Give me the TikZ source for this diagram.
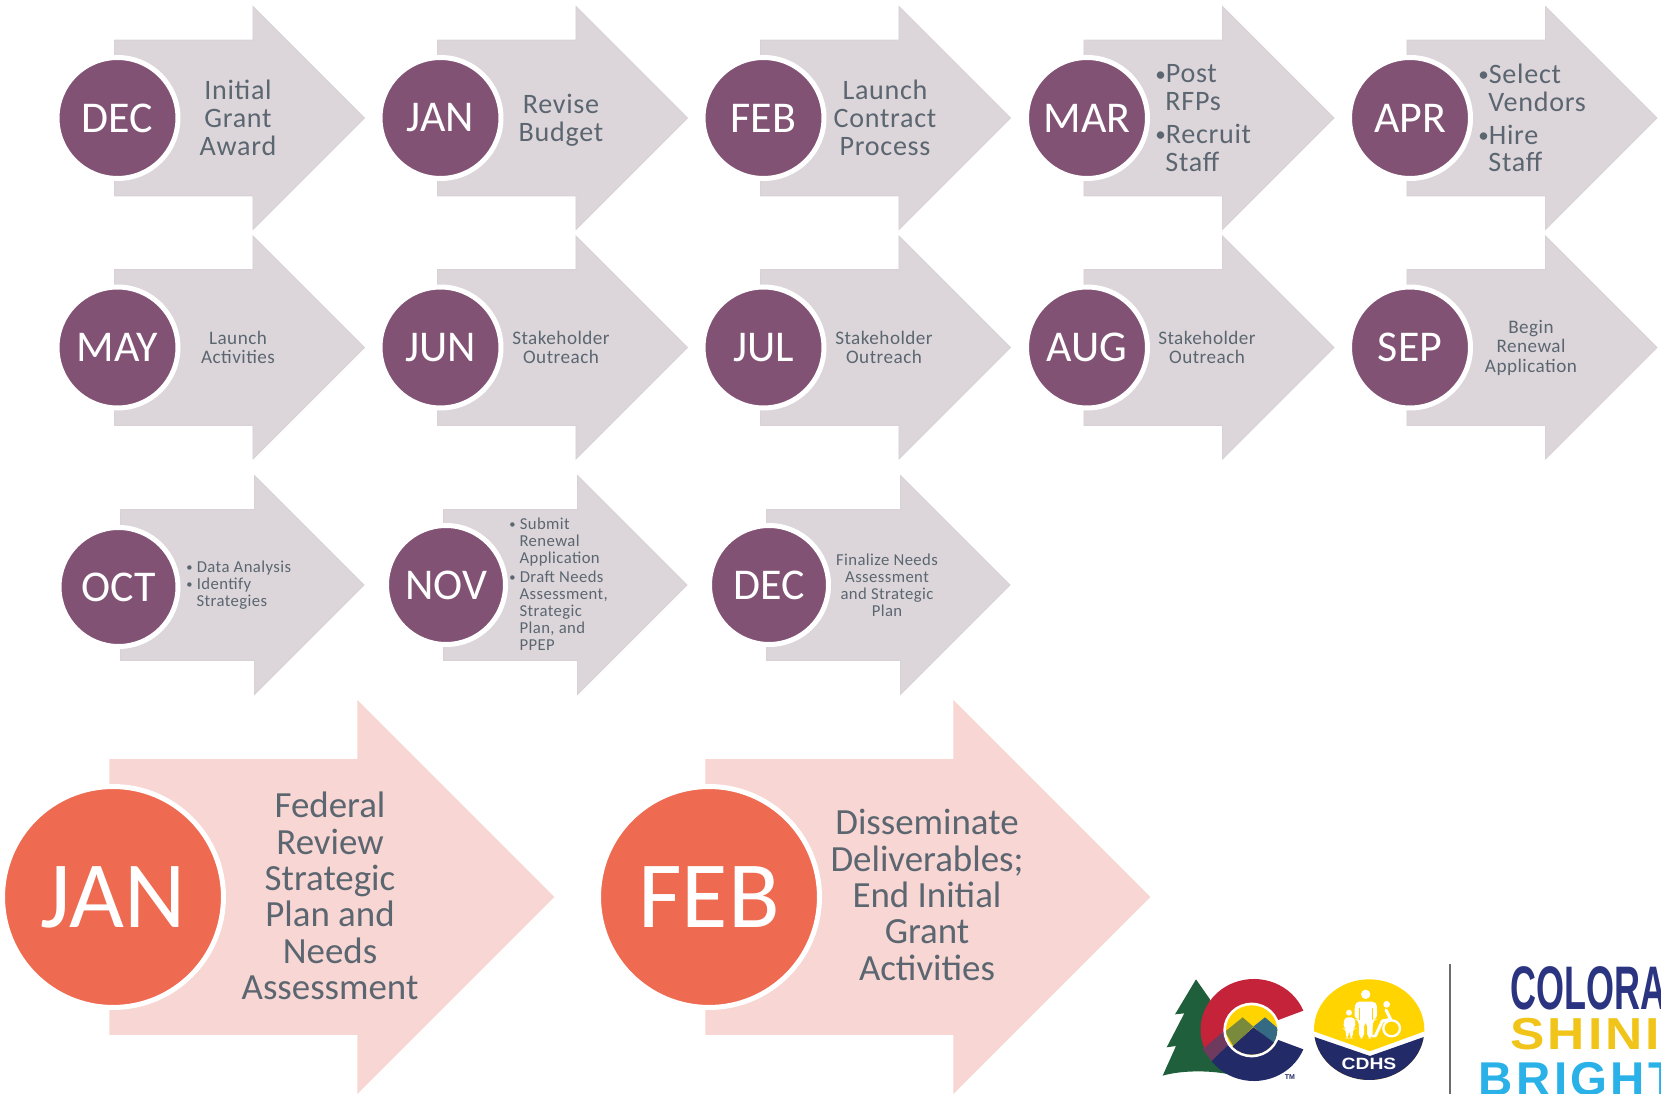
\documentclass[tikz,border=0pt]{standalone}
\usepackage{fontspec}
\setmainfont[LetterSpace=2.5]{Carlito}
\newfontfamily\monthfont{Carlito}
\newfontfamily\logofont{Liberation Sans}
\newfontfamily\shinefont[LetterSpace=6]{Liberation Sans}
\newfontfamily\brightfont[LetterSpace=7]{Liberation Sans}
\usetikzlibrary{shapes.arrows}
\definecolor{plumFill}{HTML}{825274}
\definecolor{greyArrow}{HTML}{DCD6DB}
\definecolor{greyEdge}{HTML}{D8D2D7}
\definecolor{coralFill}{HTML}{EE6A50}
\definecolor{pinkArrow}{HTML}{F7D6D3}
\definecolor{slateText}{HTML}{5B6670}
\definecolor{logoRed}{HTML}{C4233A}
\definecolor{logoNavy}{HTML}{232A68}
\definecolor{logoGreen}{HTML}{1F5F3B}
\definecolor{logoYellow}{HTML}{FFD400}
\definecolor{logoOlive}{HTML}{7A8A3C}
\definecolor{logoTeal}{HTML}{356A85}
\definecolor{logoPurple}{HTML}{6E3A5E}
\definecolor{wordNavy}{HTML}{2B3480}
\definecolor{wordYellow}{HTML}{F0C419}
\definecolor{wordBlue}{HTML}{2AB2E8}
\newcommand{\bulletgap}{\hspace*{0.36em}}
\newcommand{\itemdot}{\raisebox{.12ex}{\scalebox{.75}{\textbullet}}}
\tikzset{
    monthArrow/.style={single arrow, single arrow head indent=0pt, single arrow tip angle=90, fill=greyArrow, draw=greyEdge, line width=0.5pt, anchor=tail, inner xsep=0pt, inner ysep=1.55cm, minimum height=5cm, minimum width=4.44cm, single arrow head extend=0.67cm},
    lowArrow/.style={monthArrow, inner ysep=1.5cm, minimum height=4.87cm, minimum width=4.36cm, single arrow head extend=0.68cm},
    bigArrow/.style={single arrow, single arrow head indent=0pt, single arrow tip angle=90, fill=pinkArrow, anchor=tail, inner xsep=0pt, inner ysep=2.75cm, minimum height=8.9cm, minimum width=7.86cm, single arrow head extend=1.18cm},
    monthDisc/.style={circle, fill=plumFill, draw=white, line width=2.85pt, minimum size=2.42cm, inner sep=0pt, text=white, font=\monthfont\fontsize{25}{25}\selectfont},
    lowDisc/.style={monthDisc, minimum size=2.38cm},
    bigDisc/.style={circle, fill=coralFill, draw=white, line width=2.85pt, minimum size=4.42cm, inner sep=0pt, text=white, font=\monthfont\fontsize{54}{54}\selectfont},
    wideText/.style={align=center, text=slateText, inner sep=0pt, font=\fontsize{16}{15.8}\selectfont},
    bulletText/.style={wideText, align=left, anchor=west},
    midText/.style={wideText, font=\fontsize{10.9}{11.1}\selectfont},
    smallText/.style={wideText, font=\fontsize{9.5}{9.6}\selectfont},
    smallBullet/.style={smallText, align=left, anchor=west},
    bigText/.style={wideText, font=\monthfont\fontsize{21}{20.7}\selectfont},
    wordText/.style={anchor=base west, inner sep=0pt}
}
\begin{document}
\begin{tikzpicture}[x=0.02cm, y=-0.02cm]
    \useasboundingbox (0,0) rectangle (1661,1094);
    \clip (0,0) rectangle (1661,1094);

    \node[monthArrow] (arrowDecA) at (114,118) {};
    \node[monthArrow] (arrowJanA) at (437,118) {};
    \node[monthArrow] (arrowFebA) at (760,118) {};
    \node[monthArrow] (arrowMar) at (1083.5,118) {};
    \node[monthArrow] (arrowApr) at (1406.5,118) {};
    \node[monthDisc] (discDecA) at (117.5,118) {DEC};
    \node[monthDisc] (discJanA) at (440.5,118) {JAN};
    \node[monthDisc] (discFebA) at (763.5,118) {FEB};
    \node[monthDisc] (discMar) at (1087,118) {MAR};
    \node[monthDisc] (discApr) at (1410,118) {APR};
    \node[wideText] (textDecA) at (238,118) {Initial\\Grant\\Award};
    \node[wideText] (textJanA) at (561,120) {Revise\\Budget};
    \node[wideText] (textFebA) at (885,118) {Launch\\Contract\\Process};
    \node[bulletText] (textMar) at (1155,118) {\itemdot Post\\\bulletgap RFPs\\[3pt]\itemdot Recruit\\\bulletgap Staff};
    \node[bulletText] (textApr) at (1478,118) {\itemdot Select\\\bulletgap Vendors\\[3pt]\itemdot Hire\\\bulletgap Staff};

    \node[monthArrow] (arrowMay) at (114,347.5) {};
    \node[monthArrow] (arrowJun) at (437,347.5) {};
    \node[monthArrow] (arrowJul) at (760,347.5) {};
    \node[monthArrow] (arrowAug) at (1083.5,347.5) {};
    \node[monthArrow] (arrowSep) at (1406.5,347.5) {};
    \node[monthDisc] (discMay) at (117.5,347.5) {MAY};
    \node[monthDisc] (discJun) at (440.5,347.5) {JUN};
    \node[monthDisc] (discJul) at (763.5,347.5) {JUL};
    \node[monthDisc] (discAug) at (1087,347.5) {AUG};
    \node[monthDisc] (discSep) at (1410,347.5) {SEP};
    \node[midText] (textMay) at (238,347.5) {Launch\\Activities};
    \node[midText] (textJun) at (561,347.5) {Stakeholder\\Outreach};
    \node[midText] (textJul) at (884,347.5) {Stakeholder\\Outreach};
    \node[midText] (textAug) at (1207,347.5) {Stakeholder\\Outreach};
    \node[midText] (textSep) at (1531,347.5) {Begin\\Renewal\\Application};

    \node[lowArrow] (arrowOct) at (120,585) {};
    \node[lowArrow] (arrowNov) at (443,585) {};
    \node[lowArrow] (arrowDecB) at (766,585) {};
    \node[lowDisc] (discOct) at (118.5,587) {OCT};
    \node[lowDisc] (discNov) at (446,585) {NOV};
    \node[lowDisc] (discDecB) at (769,585) {DEC};
    \node[smallBullet] (textOct) at (186,585) {\itemdot\ Data Analysis\\\itemdot\ Identify\\\bulletgap\ Strategies};
    \node[smallBullet] (textNov) at (509,584) {\itemdot\ Submit\\\bulletgap\ Renewal\\\bulletgap\ Application\\[1.5pt]\itemdot\ Draft Needs\\\bulletgap\ Assessment,\\\bulletgap\ Strategic\\\bulletgap\ Plan, and\\\bulletgap\ PPEP};
    \node[smallText] (textDecB) at (887,585) {Finalize Needs\\Assessment\\and Strategic\\Plan};

    \node[bigArrow] (arrowJanB) at (109,897) {};
    \node[bigArrow] (arrowFebB) at (705,897) {};
    \node[bigDisc] (discJanB) at (113,897) {JAN};
    \node[bigDisc] (discFebB) at (709,897) {FEB};
    \node[bigText] (textJanB) at (330,896) {Federal\\Review\\Strategic\\Plan and\\Needs\\Assessment};
    \node[bigText] (textFebB) at (927,895) {Disseminate\\Deliverables;\\End Initial\\Grant\\Activities};

    \begin{scope}[shift={(1150,960)}, x=0.00667cm, y=-0.00667cm]
        \fill[logoGreen] (138,58) -- (180,118) -- (232,342) .. controls (170,330) and (90,332) .. (38,347) -- (78,258) -- (50,262) -- (103,160) -- (75,163) -- cycle;
        \fill[logoRed] (460,152) arc (-22:-203:160 and 152) -- (222,213) -- (385,180) -- cycle;
        \fill[logoNavy] (185,303) -- (238,250) -- (385,240) -- (460,268) arc (22:140:160 and 152) -- cycle;
        \fill[logoPurple] (158,268) -- (222,213) -- (238,250) -- (185,303) -- cycle;
        \fill[white] (305,210) ellipse (85 and 82);
        \begin{scope}
            \clip (305,210) ellipse (77 and 74);
            \fill[logoYellow] (220,130) rectangle (390,290);
            \fill[logoOlive] (225,215) -- (278,172) -- (310,200) -- (250,258) -- cycle;
            \fill[logoTeal] (310,200) -- (345,172) -- (395,215) -- (375,255) -- cycle;
            \fill[logoNavy] (310,202) -- (395,265) -- (395,290) -- (220,290) -- (220,285) -- cycle;
        \end{scope}
        \node[font=\logofont\bfseries\fontsize{4}{4}\selectfont, text=logoNavy, inner sep=0pt] (logoTm) at (420,352) {TM};

        \fill[logoYellow] (657.5,209) ellipse (165.5 and 151);
        \begin{scope}
            \clip (657.5,209) ellipse (165.5 and 151);
            \fill[white] (485,212) -- (660,274) -- (830,212) -- (830,232) -- (660,292) -- (485,232) -- cycle;
            \fill[logoNavy] (485,228) -- (660,288) -- (830,228) -- (830,365) -- (485,365) -- cycle;
        \end{scope}
        \fill[white] (647,103) circle (14);
        \fill[white, rounded corners=2.5pt] (613,178) -- (615,125) -- (680,125) -- (682,178) -- (669,178) -- (667,235) -- (652,235) -- (651,185) -- (643,185) -- (642,235) -- (627,235) -- (626,178) -- cycle;
        \draw[logoYellow, line width=0.5pt] (627,145) -- (627,180);
        \draw[logoYellow, line width=0.5pt] (668,145) -- (668,180);
        \fill[white] (597,158) circle (9);
        \fill[white, rounded corners=2pt] (580,205) -- (583,172) -- (614,172) -- (617,205) -- (609,205) -- (608,235) -- (600,235) -- (599,210) -- (596,210) -- (595,235) -- (588,235) -- (587,205) -- cycle;
        \fill[white] (710,133) circle (10);
        \draw[white, line width=1.3pt] (725,205) ellipse (25 and 24);
        \draw[white, line width=1.7pt, line cap=round, line join=round] (708,150) -- (722,178) -- (697,183) -- (676,228) -- (668,228);
        \node[font=\logofont\bfseries\fontsize{9.3}{9.3}\selectfont, text=white, inner sep=0pt, xscale=1.18] (logoCdhs) at (657,313) {CDHS};
    \end{scope}

    \fill[gray!85!black] (1449.4,964) rectangle (1451,1094);
    \node[wordText, text=wordNavy, xscale=0.585, font=\logofont\bfseries\fontsize{35}{35}\selectfont] (wordColorado) at (1510,1009) {COLORA};
    \node[wordText, text=wordYellow, xscale=1.15, font=\shinefont\bfseries\fontsize{25.5}{25.5}\selectfont] (wordShines) at (1510,1049) {SHINI};
    \node[wordText, text=wordBlue, font=\brightfont\bfseries\fontsize{27}{27}\selectfont] (wordBright) at (1478.5,1095.5) {BRIGHT};
\end{tikzpicture}
\end{document}
